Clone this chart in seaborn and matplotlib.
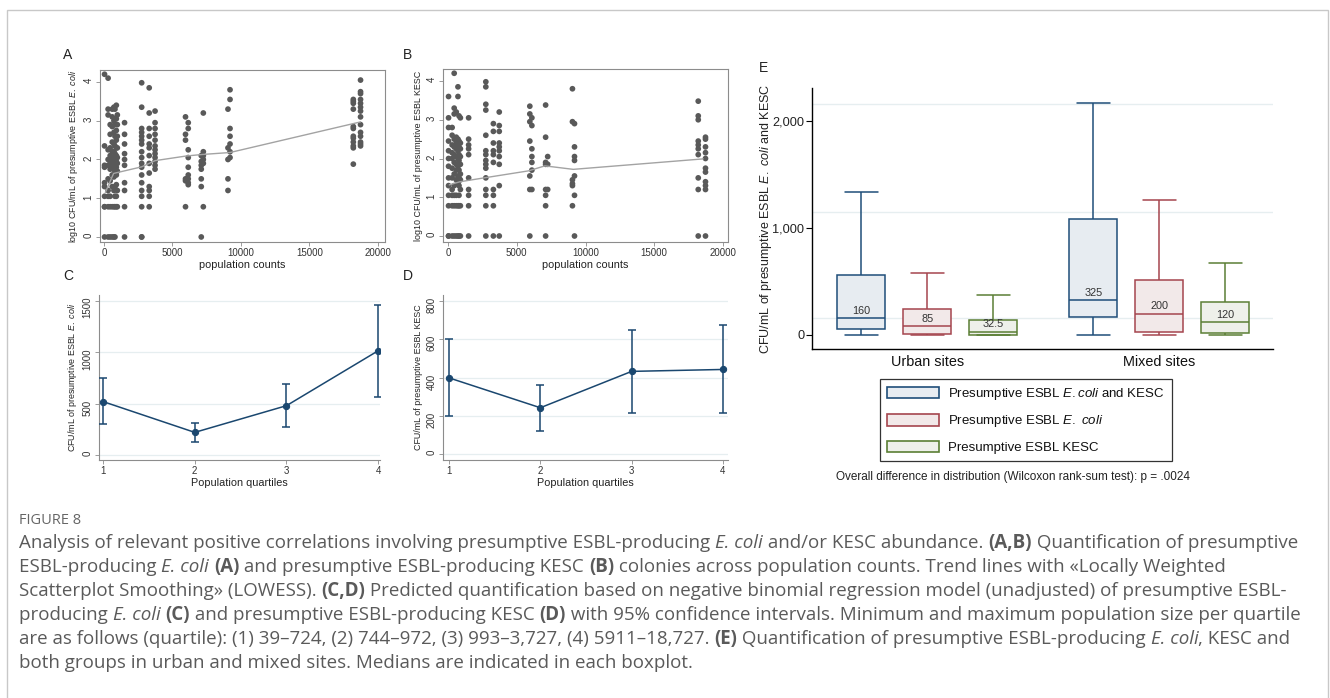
import numpy as np
import pandas as pd
import seaborn as sns
import matplotlib
matplotlib.use("Agg")
import matplotlib.pyplot as plt
from matplotlib.patches import Patch, Rectangle
from matplotlib.font_manager import FontProperties

# ---------------- data ----------------
# panel A: population counts per site and log10 CFU/mL of presumptive ESBL E. coli
a_pop = [39, 300, 450, 600, 724, 800, 900, 972, 1500, 2750, 3300, 3727,
         5950, 6150, 7100, 7250, 9050, 9200, 18200, 18727]
a_vals = [
    [4.2, 2.35, 1.85, 1.8, 1.4, 1.3, 1.05, 0.78, 0.78, 0],
    [4.1, 3.3, 3.15, 2.25, 2.0, 1.85, 1.5, 1.2, 1.05, 0.78, 0],
    [2.9, 2.65, 2.3, 2.1, 1.95, 1.75, 1.45, 1.05, 0.78, 0],
    [3.3, 3.1, 2.85, 2.45, 2.2, 2.05, 1.9, 1.8, 1.6, 1.3, 0.78, 0],
    [3.35, 3.0, 2.7, 2.4, 2.2, 2.0, 1.85, 1.75, 1.55, 1.2, 0.78, 0],
    [3.3, 2.9, 2.6, 2.35, 2.15, 2.0, 1.9, 1.7, 1.3, 1.05, 0.78, 0],
    [3.4, 3.05, 2.75, 2.5, 2.3, 2.1, 1.95, 1.8, 1.6, 1.35, 1.05, 0.78],
    [3.15, 2.9, 2.6, 2.3, 2.05, 1.9, 1.7, 1.2, 0.78],
    [2.95, 2.65, 2.4, 2.15, 2.0, 1.85, 1.4, 1.2, 0.78, 0],
    [3.98, 3.35, 2.8, 2.7, 2.6, 2.5, 2.4, 2.2, 2.05, 1.9, 1.8, 1.6, 1.4, 1.2, 1.05, 0.78, 0, 0],
    [3.85, 3.2, 2.8, 2.6, 2.4, 2.3, 2.1, 1.9, 1.65, 1.3, 1.2, 1.05, 0.78],
    [3.25, 2.95, 2.8, 2.65, 2.5, 2.35, 2.25, 2.15, 2.05, 1.95, 1.85, 1.75],
    [3.1, 2.65, 2.5, 1.5, 1.45, 0.78],
    [2.95, 2.8, 2.25, 2.05, 1.8, 1.6, 1.5, 1.4, 1.35],
    [2.1, 1.95, 1.85, 1.75, 1.5, 1.3, 0],
    [3.2, 2.2, 2.1, 2.0, 1.9, 0.78],
    [3.3, 2.3, 2.0, 1.5, 1.2],
    [3.8, 3.55, 2.8, 2.6, 2.4, 2.2, 2.05],
    [3.55, 3.5, 3.45, 3.3, 2.85, 2.8, 2.6, 2.55, 2.45, 2.35, 2.3, 1.88],
    [4.05, 3.75, 3.7, 3.55, 3.45, 3.35, 3.25, 3.1, 2.9, 2.7, 2.6, 2.45, 2.4, 2.35],
]
a_trend_x = [100, 700, 2750, 3727, 6000, 7200, 9200, 18727]
a_trend_y = [1.15, 1.64, 1.81, 1.97, 2.09, 2.13, 2.18, 2.97]

# panel B: log10 CFU/mL of presumptive ESBL KESC
b_pop = [39, 300, 450, 600, 724, 800, 900, 1500, 2750, 3300, 3727,
         5950, 6100, 7100, 7250, 9050, 9200, 18200, 18727]
b_vals = [
    [3.6, 3.05, 2.8, 2.45, 2.2, 2.0, 1.8, 1.5, 1.3, 1.05, 0.78, 0, 0],
    [2.8, 2.6, 2.35, 2.15, 2.0, 1.75, 1.5, 1.2, 1.05, 0.78, 0],
    [4.2, 3.3, 3.15, 2.5, 2.3, 2.1, 1.9, 1.6, 1.3, 1.05, 0.78, 0],
    [3.2, 2.55, 2.4, 2.25, 2.05, 1.85, 1.7, 1.45, 1.05, 0.78, 0],
    [3.85, 3.6, 2.5, 2.35, 2.2, 2.0, 1.8, 1.55, 1.35, 0.78, 0],
    [3.1, 2.45, 2.3, 2.1, 1.95, 1.7, 1.5, 1.3, 1.05, 0.78, 0],
    [3.05, 2.4, 2.25, 2.05, 1.85, 1.6, 1.45, 1.2, 0.78, 0],
    [3.05, 2.5, 2.35, 2.25, 2.1, 1.5, 1.2, 1.05, 0.78, 0],
    [3.98, 3.85, 3.4, 3.25, 2.6, 2.2, 2.1, 1.95, 1.85, 1.75, 1.5, 1.2, 1.05, 0.78, 0],
    [2.9, 2.7, 2.4, 2.2, 2.1, 1.9, 1.2, 1.05, 0.78, 0],
    [3.2, 2.85, 2.7, 2.4, 2.3, 2.2, 2.05, 1.85, 1.3, 0],
    [3.35, 3.15, 2.95, 2.45, 1.55, 1.2, 0],
    [3.05, 2.85, 2.25, 2.05, 1.9, 1.7, 1.2],
    [3.38, 2.55, 1.9, 1.85, 1.2, 1.05, 0.78, 0],
    [2.05, 1.85, 1.2],
    [3.8, 2.95, 1.45, 1.35, 1.3, 0.78],
    [2.9, 2.3, 2.05, 1.95, 1.55, 1.05, 0],
    [3.48, 3.1, 3.0, 2.45, 2.35, 2.25, 2.1, 1.5, 1.2, 0],
    [2.55, 2.5, 2.3, 2.15, 2.0, 1.75, 1.65, 1.4, 1.3, 1.2, 0],
]
b_trend_x = [95, 870, 2450, 5840, 7050, 9110, 18560]
b_trend_y = [1.32, 1.40, 1.49, 1.68, 1.81, 1.72, 1.99]

# panels C, D: predicted CFU/mL per population quartile with 95% CI
quartiles = [1, 2, 3, 4]
c_mean = [520, 220, 480, 1015]
c_low = [300, 125, 275, 565]
c_high = [750, 315, 690, 1460]
d_mean = [398, 242, 432, 442]
d_low = [198, 120, 215, 212]
d_high = [600, 362, 650, 672]

# panel E: five-number summaries (min, q1, median, q3, max)
sites = ["Urban sites", "Mixed sites"]
groups = ["both", "ecoli", "kesc"]
group_labels = [r"Presumptive ESBL $\it{E.coli}$ and KESC",
                r"Presumptive ESBL $\it{E.}$ $\it{coli}$",
                "Presumptive ESBL KESC"]
urban_both = [0, 54, 160, 561, 1336]
urban_ecoli = [0, 10, 85, 243, 579]
urban_kesc = [0, 4, 32.5, 140, 374]
mixed_both = [0, 172, 325, 1084, 2170]
mixed_ecoli = [0, 31, 200, 514, 1262]
mixed_kesc = [0, 15, 120, 308, 676]
e_grid = [159, 1150, 2160]

caption_title = "FIGURE 8"
caption_lines = [
    [("Analysis of relevant positive correlations involving presumptive ESBL-producing ", "n"), ("E. coli", "i"),
     (" and/or KESC abundance. ", "n"), ("(A,B)", "b"), (" Quantification of presumptive", "n")],
    [("ESBL-producing ", "n"), ("E. coli", "i"), (" ", "n"), ("(A)", "b"),
     (" and presumptive ESBL-producing KESC ", "n"), ("(B)", "b"),
     (" colonies across population counts. Trend lines with \u00abLocally Weighted", "n")],
    [("Scatterplot Smoothing\u00bb (LOWESS). ", "n"), ("(C,D)", "b"),
     (" Predicted quantification based on negative binomial regression model (unadjusted) of presumptive ESBL-", "n")],
    [("producing ", "n"), ("E. coli", "i"), (" ", "n"), ("(C)", "b"), (" and presumptive ESBL-producing KESC ", "n"),
     ("(D)", "b"), (" with 95% confidence intervals. Minimum and maximum population size per quartile", "n")],
    [("are as follows (quartile): (1) 39\u2013724, (2) 744\u2013972, (3) 993\u20133,727, (4) 5911\u201318,727. ", "n"),
     ("(E)", "b"), (" Quantification of presumptive ESBL-producing ", "n"), ("E. coli", "i"), (", KESC and", "n")],
    [("both groups in urban and mixed sites. Medians are indicated in each boxplot.", "n")],
]

# ---------------- style ----------------
sns.set_theme(style="white")
plt.rcParams["font.family"] = ["Liberation Sans", "DejaVu Sans"]
plt.rcParams["mathtext.fontset"] = "custom"
plt.rcParams["mathtext.rm"] = "Liberation Sans"
plt.rcParams["mathtext.it"] = "Liberation Sans:italic"
plt.rcParams["mathtext.bf"] = "Liberation Sans:bold"

W, H = 1330, 698
fig = plt.figure(figsize=(W / 100, H / 100), dpi=100)
fig.patch.set_facecolor("white")


def px_axes(left, top, right, bottom):
    return fig.add_axes([left / W, 1 - bottom / H, (right - left) / W, (bottom - top) / H])


navy = "#1a476f"
dot = "#595959"
frame = "#8c8c8c"
grid_c = "#e6eef0"


def scatter_panel(ax, pops, vals, tx, ty, ylabel, xlim, ylim):
    df = pd.DataFrame({"pop": np.repeat(pops, [len(v) for v in vals]),
                       "val": np.concatenate(vals)})
    sns.scatterplot(data=df, x="pop", y="val", ax=ax, color=dot, s=17,
                    edgecolor="none", linewidth=0, zorder=2)
    sns.lineplot(x=tx, y=ty, ax=ax, color="#a3a3a3", lw=1.0, zorder=3)
    ax.set_xlim(*xlim)
    ax.set_ylim(*ylim)
    ax.set_xticks([0, 5000, 10000, 15000, 20000])
    ax.set_yticks([0, 1, 2, 3, 4])
    for s in ax.spines.values():
        s.set_color(frame)
        s.set_linewidth(0.8)
    ax.tick_params(axis="both", length=3, width=0.6, color=frame, labelsize=7,
                   pad=1.5, labelcolor="#333333", bottom=True, left=True)
    ax.tick_params(axis="y", labelrotation=90)
    ax.set_xlabel("population counts", fontsize=7.8, labelpad=1, color="#222222")
    ax.set_ylabel(ylabel, fontsize=6.4, labelpad=3, color="#222222")


def ci_panel(ax, mean, low, high, ylabel, xlim, ylim, yticks):
    ax.yaxis.grid(True, color=grid_c, lw=0.9)
    ax.set_axisbelow(True)
    sns.lineplot(x=quartiles, y=mean, ax=ax, color=navy, lw=1.1, marker="o",
                 markersize=4.5, markeredgecolor=navy, zorder=3)
    ax.errorbar(quartiles, mean, yerr=[np.subtract(mean, low), np.subtract(high, mean)],
                fmt="none", ecolor=navy, elinewidth=1.1, capsize=3.2, capthick=1.1, zorder=3)
    ax.set_xlim(*xlim)
    ax.set_ylim(*ylim)
    ax.set_xticks(quartiles)
    ax.set_yticks(yticks)
    for side in ["top", "right"]:
        ax.spines[side].set_visible(False)
    for side in ["left", "bottom"]:
        ax.spines[side].set_color(frame)
        ax.spines[side].set_linewidth(0.8)
    ax.tick_params(axis="both", length=3, width=0.6, color=frame, labelsize=7,
                   pad=1.5, labelcolor="#333333", bottom=True, left=True)
    ax.tick_params(axis="y", labelrotation=90)
    ax.set_xlabel("Population quartiles", fontsize=7.8, labelpad=1, color="#222222")
    ax.set_ylabel(ylabel, fontsize=6.4, labelpad=3, color="#222222")


axA = px_axes(100, 70, 385, 242)
scatter_panel(axA, a_pop, a_vals, a_trend_x, a_trend_y,
              r"log10 CFU/mL of presumptive ESBL $\it{E.}$ $\it{coli}$", (-292, 20513), (-0.13, 4.31))
axB = px_axes(443, 69, 728, 242)
scatter_panel(axB, b_pop, b_vals, b_trend_x, b_trend_y,
              "log10 CFU/mL of presumptive ESBL KESC", (-364, 20364), (-0.155, 4.31))

axC = px_axes(99, 295, 380, 460)
ci_panel(axC, c_mean, c_low, c_high, r"CFU/mL of presumptive ESBL $\it{E.}$ $\it{coli}$",
         (0.956, 4.02), (-49, 1558), [0, 500, 1000, 1500])
axD = px_axes(443, 295, 728, 460)
ci_panel(axD, d_mean, d_low, d_high, "CFU/mL of presumptive ESBL KESC",
         (0.934, 4.055), (-31, 831), [0, 200, 400, 600, 800])

# ---------------- panel E ----------------
axE = px_axes(812, 88, 1273, 349)
box_rows = []
for site, summaries in zip(sites, [[urban_both, urban_ecoli, urban_kesc],
                                   [mixed_both, mixed_ecoli, mixed_kesc]]):
    for g, summ in zip(groups, summaries):
        for v in summ:
            box_rows.append({"site": site, "group": g, "value": v})
df_box = pd.DataFrame(box_rows)

fills = ["#e7ecf1", "#f2e9e9", "#eef0ea"]
edges = ["#1f4e79", "#a5454e", "#5b7f35"]
for gy in e_grid:
    axE.axhline(gy, color=grid_c, lw=1.0, zorder=0)
sns.boxplot(data=df_box, x="site", y="value", hue="group", order=sites, hue_order=groups,
            whis=(0, 100), width=0.853, gap=0.27, palette=fills, saturation=1,
            linewidth=1.1, ax=axE, legend=False, capwidths=0.142, zorder=2)
for cont, ec in zip(axE.containers, edges):
    for b in cont.boxes:
        b.set_edgecolor(ec)
    for ln in list(cont.whiskers) + list(cont.caps) + list(cont.medians):
        ln.set_color(ec)
        ln.set_linewidth(1.1)
    for m in cont.medians:
        xs = m.get_xdata()
        med = m.get_ydata()[0]
        axE.annotate(f"{med:g}", xy=((xs[0] + xs[-1]) / 2, med), xytext=(0, 1.5),
                     textcoords="offset points", ha="center", va="bottom",
                     fontsize=7.8, color="#333333", zorder=4)

axE.set_xlim(-0.496, 1.49)
axE.set_ylim(-131, 2308)
axE.set_yticks([0, 1000, 2000])
axE.set_yticklabels(["0", "1,000", "2,000"])
for side in ["top", "right"]:
    axE.spines[side].set_visible(False)
for side in ["left", "bottom"]:
    axE.spines[side].set_color("black")
    axE.spines[side].set_linewidth(1.0)
axE.tick_params(axis="y", length=4, width=0.8, color="black", labelsize=9.2, pad=1.5,
                labelcolor="#222222", left=True)
axE.tick_params(axis="x", length=0, labelsize=10.4, pad=4, labelcolor="#111111")
axE.set_xlabel("")
axE.set_ylabel(r"CFU/mL of presumptive ESBL $\it{E.}$ $\it{coli}$ and KESC", fontsize=9,
               labelpad=-1, color="#222222")

handles = [Patch(facecolor=f, edgecolor=e, linewidth=1.2) for f, e in zip(fills, edges)]
leg = fig.legend(handles, group_labels, loc="upper left", bbox_to_anchor=(880 / W, 1 - 379 / H),
                 bbox_transform=fig.transFigure, borderaxespad=0, frameon=True, fancybox=False,
                 fontsize=9.5, handlelength=3.9, handleheight=0.95, labelspacing=0.85,
                 handletextpad=0.7, borderpad=0.55)
leg.get_frame().set_edgecolor("black")
leg.get_frame().set_linewidth(0.9)
for t in leg.get_texts():
    t.set_color("#111111")

fig.text(1013 / W, 1 - 477 / H,
         "Overall difference in distribution (Wilcoxon rank-sum test): p = .0024",
         ha="center", va="center", fontsize=8.5, color="#222222")

# panel letters
for letter, (lx, ly) in {"A": (68, 55), "B": (408, 55), "C": (68, 276),
                         "D": (408, 276), "E": (763, 68)}.items():
    fig.text(lx / W, 1 - ly / H, letter, ha="center", va="center", fontsize=10, color="#222222")

# outer frame
fig.add_artist(Rectangle((7 / W, -0.05), (1328 - 7) / W, 1.05 - 10 / H, transform=fig.transFigure,
                         fill=False, edgecolor="#c8c8c8", lw=1.0))

# ---------------- caption ----------------
renderer = fig.canvas.get_renderer()
cap_font = "Open Sans"
cap_color = "#5a5a5a"


def run_props(style, size):
    return FontProperties(family=[cap_font, "DejaVu Sans"], size=size,
                          weight="bold" if style == "b" else "normal",
                          style="italic" if style == "i" else "normal")


def run_width(txt, style, size):
    p = run_props(style, size)
    w1 = renderer.get_text_width_height_descent("|" + txt + "|", p, ismath=False)[0]
    w2 = renderer.get_text_width_height_descent("||", p, ismath=False)[0]
    return w1 - w2


base_size = 12.0
line1_w = sum(run_width(t, s, base_size) for t, s in caption_lines[0])
cap_size = base_size * (1290 - 19) / line1_w

fig.text(19 / W, 1 - 524 / H, caption_title, fontsize=cap_size * 0.78, color="#666666",
         family=[cap_font, "DejaVu Sans"], ha="left", va="baseline")
for i, line in enumerate(caption_lines):
    x = 19.0
    base = 548 + 24 * i
    for txt, style in line:
        p = run_props(style, cap_size)
        fig.text(x / W, 1 - base / H, txt, fontproperties=p, color=cap_color,
                 ha="left", va="baseline")
        x += run_width(txt, style, cap_size)

fig.savefig("out.png", dpi=100)
